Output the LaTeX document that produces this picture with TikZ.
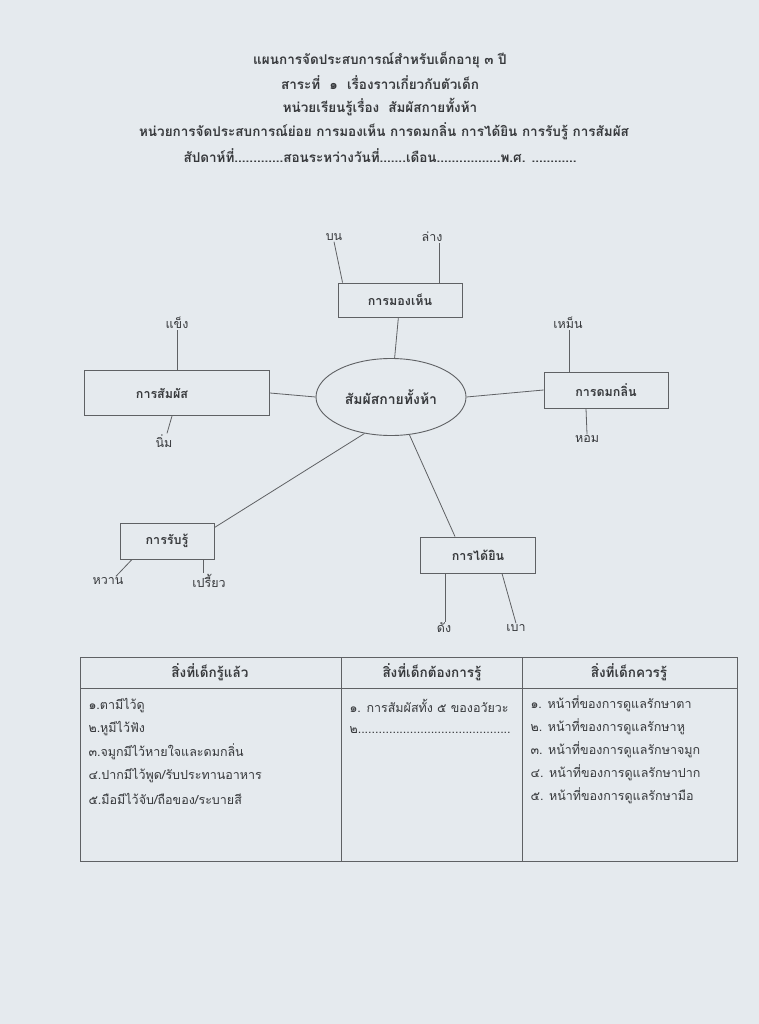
\documentclass[tikz,border=0pt]{standalone}
\usepackage{fontspec}
\setmainfont[Script=Thai]{Loma}
\usepackage{xcolor}
\usetikzlibrary{shapes.geometric,positioning,calc}

\definecolor{paper}{RGB}{229,234,238}
\definecolor{ink}{RGB}{55,57,60}
\definecolor{rule}{RGB}{95,97,100}

\begin{document}
\begin{tikzpicture}[x=1pt,y=-1pt,
  box/.style={draw=rule,rectangle,line width=0.9pt,text=ink,inner sep=0pt},
  lbl/.style={text=ink,inner sep=1pt,font=\fontsize{12.5}{14}\selectfont},
  head/.style={text=ink,font=\fontsize{13.5}{16}\selectfont\bfseries},
  cell/.style={text=ink,anchor=west,font=\fontsize{12.5}{14}\selectfont},
  link/.style={draw=rule,line width=0.8pt}]
  \fill[paper] (0,0) rectangle (759,1024);
  \useasboundingbox (0,0) rectangle (759,1024);

  % title
  \node[head] (t1) at (380,60) {แผนการจัดประสบการณ์สำหรับเด็กอายุ ๓ ปี};
  \node[head] (t2) at (380,83) {สาระที่ ~๑~ เรื่องราวเกี่ยวกับตัวเด็ก};
  \node[head] (t3) at (380,107) {หน่วยเรียนรู้เรื่อง ~สัมผัสกายทั้งห้า};
  \node[head] (t4) at (384,131) {หน่วยการจัดประสบการณ์ย่อย การมองเห็น การดมกลิ่น การได้ยิน การรับรู้ การสัมผัส};
  \node[head] (t5) at (380,156) {สัปดาห์ที่.............สอนระหว่างวันที่.......เดือน.................พ.ศ. ............};

  % web
  \node[draw=rule,ellipse,line width=0.9pt,minimum width=150pt,minimum height=77pt,text=ink,
    font=\fontsize{14}{16}\selectfont\bfseries] (center) at (391,397) {สัมผัสกายทั้งห้า};
  \node[box,minimum width=124pt,minimum height=34pt,font=\fontsize{12.5}{15}\selectfont\bfseries] (seeing) at (400,300) {การมองเห็น};
  \node[box,minimum width=185pt,minimum height=45pt,font=\fontsize{12.5}{15}\selectfont\bfseries] (touching) at (177,393) {\hspace*{-30pt}การสัมผัส};
  \node[box,minimum width=124pt,minimum height=36pt,font=\fontsize{12.5}{15}\selectfont\bfseries] (smelling) at (606,390) {การดมกลิ่น};
  \node[box,minimum width=94pt,minimum height=36pt,font=\fontsize{12.5}{15}\selectfont\bfseries] (tasting) at (167,541) {การรับรู้};
  \node[box,minimum width=115pt,minimum height=36pt,font=\fontsize{12.5}{15}\selectfont\bfseries] (hearing) at (478,555) {การได้ยิน};

  \node[lbl] (up) at (334,237) {บน};
  \node[lbl] (down) at (432,237) {ล่าง};
  \node[lbl] (hard) at (177,323) {แข็ง};
  \node[lbl] (soft) at (164,441) {นิ่ม};
  \node[lbl] (stink) at (568,323) {เหม็น};
  \node[lbl] (fragrant) at (587,439) {หอม};
  \node[lbl] (sweet) at (108,581) {หวาน};
  \node[lbl] (sour) at (209,581) {เปรี้ยว};
  \node[lbl] (loud) at (444,628) {ดัง};
  \node[lbl] (quiet) at (516,628) {เบา};

  \draw[link] (center) -- (seeing);
  \draw[link] (center.west) -- (touching.east);
  \draw[link] (center.east) -- (smelling.west);
  \draw[link] (center.234) -- ([yshift=-5pt]tasting.north east);
  \draw[link] (center.296) -- ([xshift=-23pt]hearing.north);

  \draw[link] ([xshift=5pt]seeing.north west) -- (up.south);
  \draw[link] ([xshift=39pt]seeing.north) -- ([xshift=39pt]seeing.north |- down.south);
  \draw[link] (touching.north) -- (hard.south);
  \draw[link] ([xshift=-5pt]touching.south) -- ([xshift=3pt]soft.north);
  \draw[link] ([xshift=-37pt]smelling.north) -- ([xshift=-37pt]smelling.north |- stink.south);
  \draw[link] ([xshift=-20pt]smelling.south) -- (fragrant.north);
  \draw[link] ([xshift=-35pt]tasting.south) -- ([xshift=8pt]sweet.north);
  \draw[link] ([xshift=36pt]tasting.south) -- ([xshift=36pt]tasting.south |- sour.north);
  \draw[link] ([xshift=-33pt]hearing.south) -- ([xshift=-33pt]hearing.south |- loud.north);
  \draw[link] ([xshift=24pt]hearing.south) -- (quiet.north);

  % table
  \draw[link,line width=0.9pt] (80,657) rectangle (737,861);
  \draw[link,line width=0.9pt] (80,688) -- (737,688);
  \draw[link,line width=0.9pt] (341,657) -- (341,861);
  \draw[link,line width=0.9pt] (522,657) -- (522,861);
  \node[head] (h1) at (210,672) {สิ่งที่เด็กรู้แล้ว};
  \node[head] (h2) at (432,672) {สิ่งที่เด็กต้องการรู้};
  \node[head] (h3) at (629,672) {สิ่งที่เด็กควรรู้};

  \node[cell] (a1) at (85,706) {๑.ตามีไว้ดู};
  \node[cell] (a2) at (85,729) {๒.หูมีไว้ฟัง};
  \node[cell] (a3) at (85,752) {๓.จมูกมีไว้หายใจและดมกลิ่น};
  \node[cell] (a4) at (85,776) {๔.ปากมีไว้พูด/รับประทานอาหาร};
  \node[cell] (a5) at (85,799) {๕.มือมีไว้จับ/ถือของ/ระบายสี};

  \node[cell] (b1) at (346,706) {๑. การสัมผัสทั้ง ๕ ของอวัยวะ};
  \node[cell] (b2) at (346,730) {๒............................................};

  \node[cell] (c1) at (527,704) {๑. หน้าที่ของการดูแลรักษาตา};
  \node[cell] (c2) at (527,727) {๒. หน้าที่ของการดูแลรักษาหู};
  \node[cell] (c3) at (527,750) {๓. หน้าที่ของการดูแลรักษาจมูก};
  \node[cell] (c4) at (527,773) {๔. หน้าที่ของการดูแลรักษาปาก};
  \node[cell] (c5) at (527,796) {๕. หน้าที่ของการดูแลรักษามือ};
\end{tikzpicture}
\end{document}
